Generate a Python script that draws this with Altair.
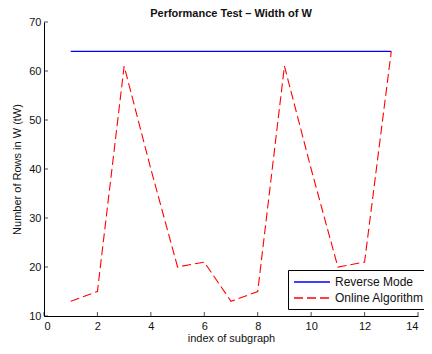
import altair as alt
import pandas as pd

x_index = list(range(1, 14))
reverse_mode = [64] * 13
online_algorithm = [13, 15, 61, 40, 20, 21, 13, 15, 61, 40, 20, 21, 64]
x_ticks = [0, 2, 4, 6, 8, 10, 12, 14]
y_ticks = [10, 20, 30, 40, 50, 60, 70]
series_names = ["Reverse Mode", "Online Algorithm"]

rows = []
for i, xv in enumerate(x_index):
    rows.append({"x": xv, "y": reverse_mode[i], "series": series_names[0]})
    rows.append({"x": xv, "y": online_algorithm[i], "series": series_names[1]})
df = pd.DataFrame(rows)

FONT = "Liberation Sans"
W, H = 374, 294
PAD = {"left": 36, "top": 14, "right": 6, "bottom": 30}
xscale = alt.Scale(domain=[0, 14], nice=False, zero=False)
yscale = alt.Scale(domain=[10, 70], nice=False, zero=False)

legend_kw = dict(
    title=None, orient="none", legendX=W - 130, legendY=H - 46,
    strokeColor="black", fillColor="white", padding=5,
    symbolType="M-1,0H5", symbolSize=144, symbolStrokeWidth=1.3,
    labelFont=FONT, labelFontSize=12, labelColor="#111", rowPadding=3,
    labelOffset=28, cornerRadius=0, labelLimit=200,
)

lines = alt.Chart(df).mark_line(strokeWidth=1.1).encode(
    x=alt.X("x:Q", scale=xscale, axis=alt.Axis(
        values=x_ticks, title="index of subgraph", tickSize=0, labelPadding=4,
        titlePadding=1, format="d")),
    y=alt.Y("y:Q", scale=yscale, axis=alt.Axis(
        values=y_ticks, title="Number of Rows in W (tW)", tickSize=0,
        labelPadding=3, titlePadding=6, format="d")),
    color=alt.Color("series:N", scale=alt.Scale(domain=series_names, range=["#0000ff", "#ff0000"]),
                    legend=alt.Legend(**legend_kw)),
    strokeDash=alt.StrokeDash("series:N", scale=alt.Scale(domain=series_names, range=[[1, 0], [9, 4]]),
                              legend=alt.Legend(**legend_kw)),
)

xt = alt.Chart(pd.DataFrame({"t": x_ticks})).mark_tick(
    orient="vertical", size=4, thickness=1, color="black", yOffset=-2
).encode(x=alt.X("t:Q", scale=xscale), y=alt.datum(10, scale=yscale))

yt = alt.Chart(pd.DataFrame({"t": y_ticks})).mark_tick(
    orient="horizontal", size=4, thickness=1, color="black", xOffset=2
).encode(y=alt.Y("t:Q", scale=yscale), x=alt.datum(0, scale=xscale))

chart = alt.layer(lines, xt, yt).properties(
    width=W, height=H,
    title=alt.TitleParams("Performance Test – Width of W", font=FONT, fontSize=11,
                          fontWeight="bold", color="#111", offset=4, dy=7, frame="group"),
    autosize=alt.AutoSizeParams(type="none"),
    padding=PAD,
).configure_view(stroke=None).configure_axis(
    grid=False, domainColor="black", domainWidth=1,
    labelFont=FONT, labelFontSize=11, labelColor="#111",
    titleFont=FONT, titleFontSize=11, titleFontWeight="normal", titleColor="#111",
)

chart.save("out.html", embed_options={"renderer": "svg", "actions": False})
